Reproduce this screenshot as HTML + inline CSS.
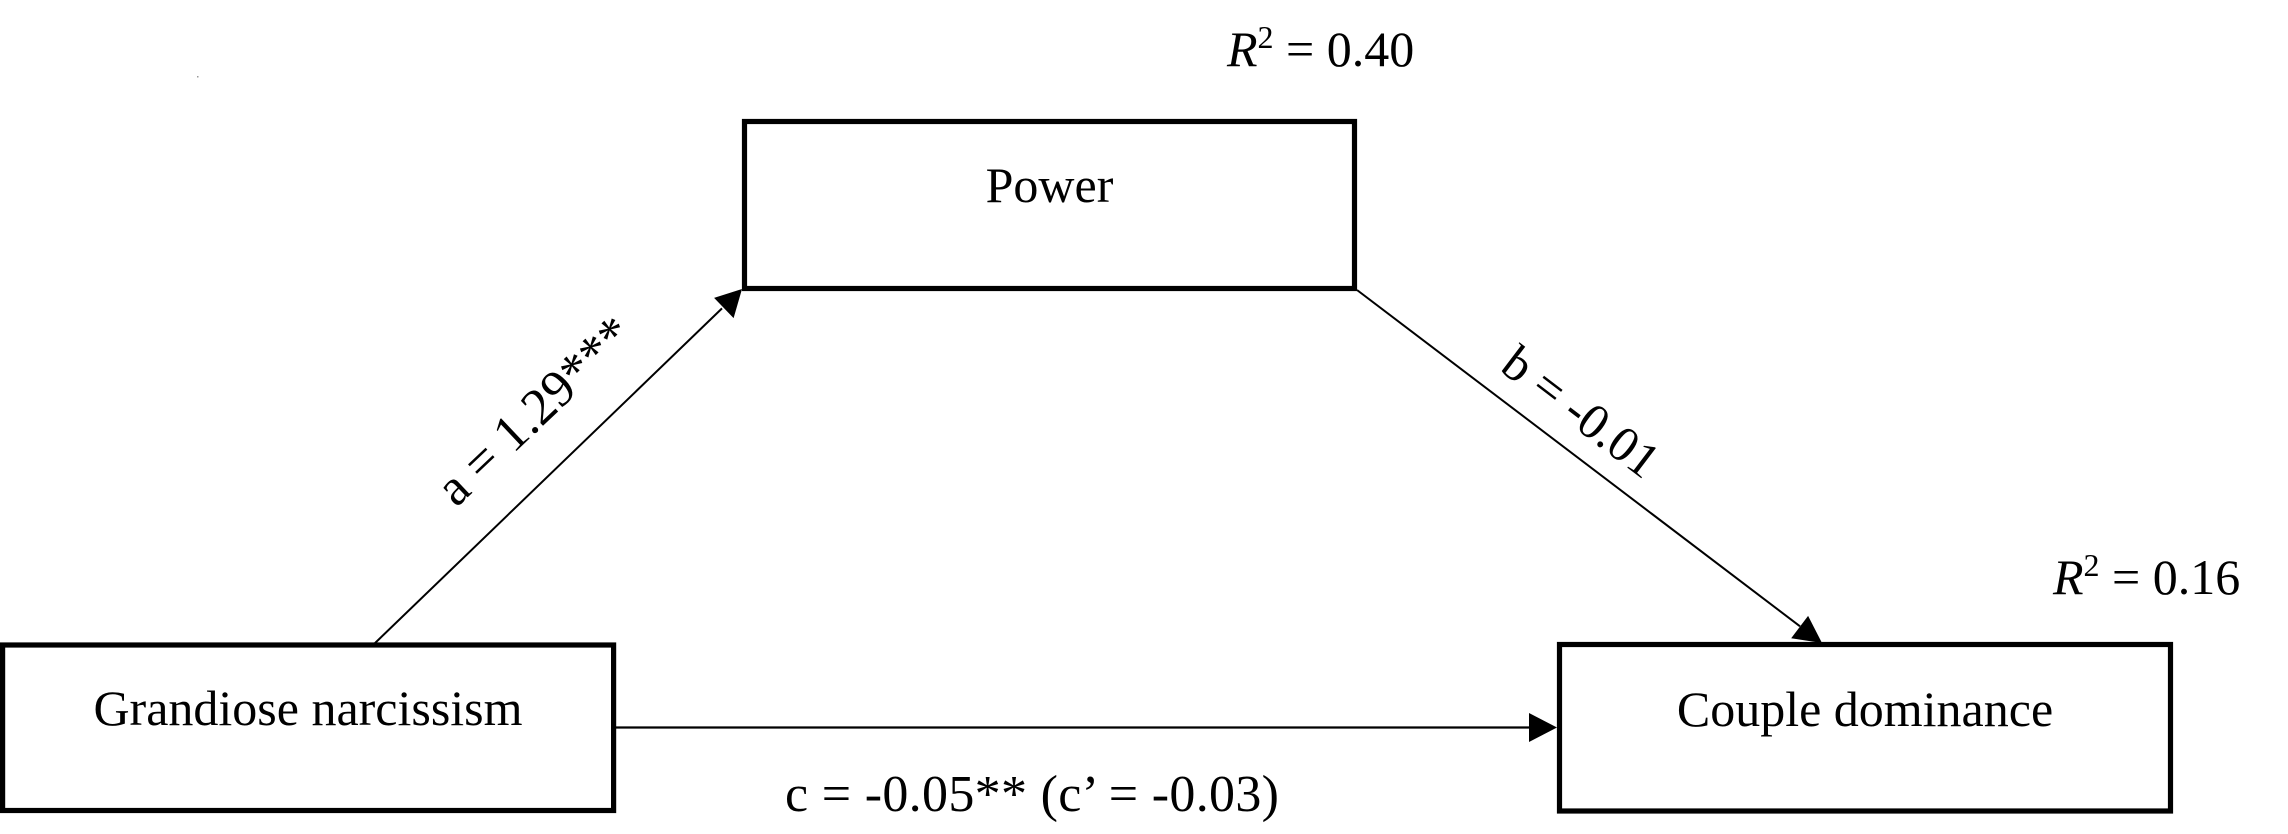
<!DOCTYPE html>
<html>
<head>
<meta charset="utf-8">
<style>
  html, body { margin:0; padding:0; background:#ffffff; }
  body { width:2288px; height:834px; overflow:hidden; }
  svg { display:block; }
  text { font-family: "Liberation Serif", "Times New Roman", serif; fill:#000; }
</style>
</head>
<body>
<svg width="2288" height="834" viewBox="0 0 2288 834" xmlns="http://www.w3.org/2000/svg">
  <rect x="0" y="0" width="2288" height="834" fill="#ffffff"/>

  <!-- tiny dot -->
  <rect x="197" y="76" width="1.5" height="1.5" fill="#999"/>

  <!-- Boxes -->
  <rect x="744.5" y="121.5" width="610" height="167" fill="none" stroke="#000" stroke-width="5.2"/>
  <rect x="2.6" y="645" width="611" height="165.5" fill="none" stroke="#000" stroke-width="5.2"/>
  <rect x="1559.5" y="644.5" width="611" height="166.5" fill="none" stroke="#000" stroke-width="5.2"/>

  <!-- Box labels -->
  <text x="1049.5" y="202" font-size="50" text-anchor="middle">Power</text>
  <text x="308" y="725" font-size="50" text-anchor="middle">Grandiose narcissism</text>
  <text x="1865" y="726" font-size="50" text-anchor="middle">Couple dominance</text>

  <!-- R2 labels -->
  <text x="1227" y="66" font-size="50"><tspan font-style="italic">R</tspan><tspan font-size="32" dy="-18">2</tspan><tspan dy="18"> = 0.40</tspan></text>
  <text x="2053" y="594" font-size="50"><tspan font-style="italic">R</tspan><tspan font-size="32" dy="-18">2</tspan><tspan dy="18"> = 0.16</tspan></text>

  <!-- Path a -->
  <line x1="373" y1="645" x2="722" y2="308.4" stroke="#000" stroke-width="2"/>
  <polygon points="742,289 733.6,318.1 714.1,297.9" fill="#000"/>

  <!-- Path b -->
  <line x1="1357" y1="290" x2="1800" y2="626.3" stroke="#000" stroke-width="2"/>
  <polygon points="1822,643 1791.2,638.2 1808.1,615.9" fill="#000"/>

  <!-- Path c -->
  <line x1="616" y1="727.5" x2="1530" y2="727.5" stroke="#000" stroke-width="2.2"/>
  <polygon points="1557,727.5 1529,713 1529,742" fill="#000"/>

  <!-- Path labels -->
  <text x="546" y="423" font-size="52" text-anchor="middle" transform="rotate(-43.5 546 423)">a = 1.29***</text>
  <text x="1571" y="425" font-size="50" text-anchor="middle" transform="rotate(37.2 1571 425)">b = -0.01</text>
  <text x="1032" y="811" font-size="52" text-anchor="middle" textLength="494" lengthAdjust="spacing">c = -0.05** (c’ = -0.03)</text>
</svg>
</body>
</html>
